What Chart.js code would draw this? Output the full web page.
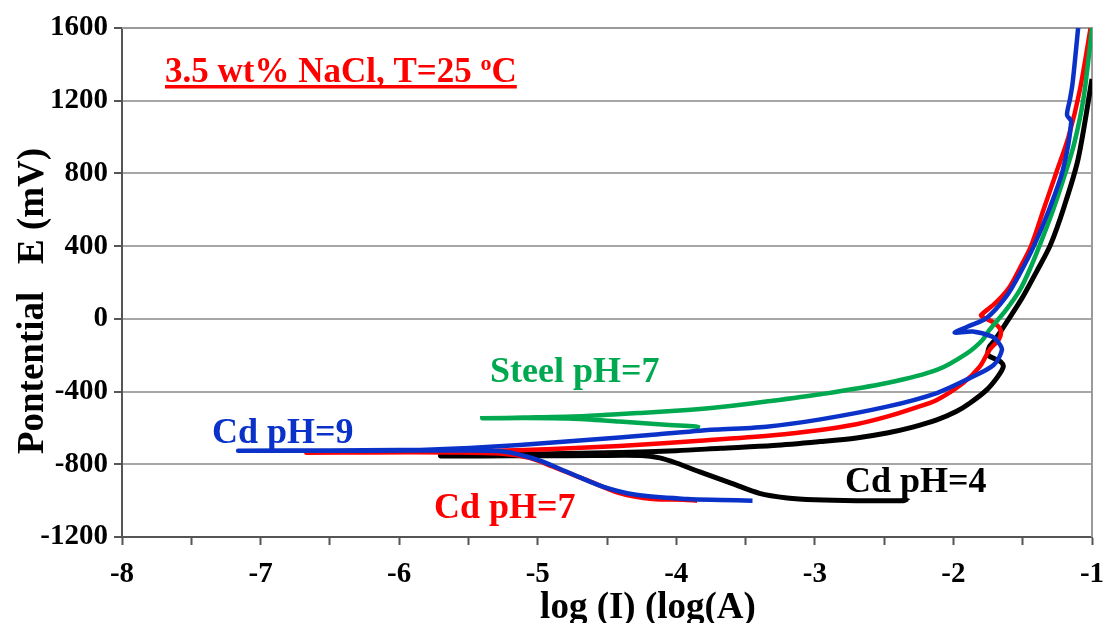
<!DOCTYPE html>
<html>
<head>
<meta charset="utf-8">
<script src="https://cdn.jsdelivr.net/npm/chart.js@4.4.1/dist/chart.umd.min.js"></script>
<style>
  html, body { margin: 0; padding: 0; background: #fff; }
</style>
</head>
<body>
<canvas id="chart" width="1104" height="623"></canvas>
<script>
// ---------- DATA (log I in log(A), E in mV) ----------
const cd4LogI = [-2.33, -2.36, -2.7, -3.0, -3.2, -3.4, -3.6, -3.83, -4.0, -4.12, -4.25, -4.6, -5.0, -5.4, -5.7,
  -5.6, -5.2, -4.8, -4.4, -4.0, -3.68, -3.3, -2.96, -2.7, -2.48, -2.3, -2.12, -1.98, -1.88, -1.76, -1.68, -1.64,
  -1.66, -1.71, -1.75, -1.74, -1.70, -1.60, -1.50, -1.40, -1.30, -1.20, -1.10, -1.0];
const cd4E = [-990, -1000, -1000, -995, -985, -960, -905, -842, -793, -765, -752, -752, -753, -754, -754,
  -750, -745, -741, -735, -725, -712, -697, -675, -655, -628, -597, -556, -510, -463, -391, -318, -263,
  -235, -217, -198, -153, -116, 0, 120, 260, 407, 620, 880, 1320];

const cd7LogI = [-3.85, -3.95, -4.17, -4.41, -4.65, -4.89, -5.06, -5.25, -5.6, -6.2, -6.67,
  -6.3, -5.8, -5.3, -4.89, -4.41, -3.83, -3.3, -2.96, -2.7, -2.48, -2.3, -2.12, -1.93, -1.81, -1.74, -1.67,
  -1.66, -1.71, -1.79, -1.80, -1.70, -1.60, -1.52, -1.44, -1.35, -1.26, -1.17, -1.09, -1.01];
const cd7E = [-1000, -995, -991, -958, -886, -813, -765, -742, -735, -735, -736,
  -733, -731, -725, -716, -699, -670, -640, -611, -580, -538, -495, -446, -353, -263, -171, -110,
  -61, -20, 10, 21, 85, 170, 280, 400, 600, 800, 1000, 1250, 1600];

const cd9LogI = [-3.45, -3.68, -3.92, -4.29, -4.53, -4.77, -5.0, -5.25, -5.6, -6.2, -7.16,
  -6.5, -6.0, -5.85, -5.49, -5.13, -4.65, -4.17, -3.83, -3.35, -2.96, -2.48, -2.12, -1.88, -1.71, -1.65,
  -1.68, -1.72, -1.86, -1.99, -1.90, -1.76, -1.62, -1.52, -1.42, -1.31, -1.21, -1.15, -1.18, -1.16, -1.14, -1.10];
const cd9E = [-1000, -996, -991, -968, -923, -848, -776, -730, -724, -725, -725,
  -724, -722, -721, -710, -694, -666, -638, -615, -593, -553, -483, -408, -325, -254, -171,
  -125, -98, -70, -76, -43, 5, 122, 250, 400, 600, 820, 1085, 1121, 1204, 1297, 1600];

const steelLogI = [-3.83, -3.86, -4.05, -4.41, -4.77, -5.1, -5.40, -5.1, -4.65, -4.2, -3.92, -3.68,
  -3.35, -2.96, -2.48, -2.12, -1.90, -1.79, -1.74, -1.62, -1.52, -1.45, -1.38, -1.29, -1.21, -1.13, -1.06, -1.0];
const steelE = [-600, -592, -584, -565, -548, -545, -547, -543, -534, -515, -501, -485,
  -455, -415, -353, -281, -188, -116, -61, 49, 159, 270, 400, 580, 760, 960, 1220, 1600];

const xMin = -8, xMax = -1, xStep = 0.5;
const yMin = -1200, yMax = 1600, yStep = 400;

function pts(xs, ys) {
  return xs.map((x, i) => ({ x: x, y: ys[i] }));
}

// ---------- TEXT LABELS + FRAME ----------
const labelPlugin = {
  id: "labels",
  beforeDatasetsDraw(chart) {
    const { ctx, chartArea: a } = chart;
    ctx.save();
    ctx.strokeStyle = "#9a9a9a";
    ctx.lineWidth = 2;
    ctx.beginPath();
    ctx.moveTo(a.left, a.top);
    ctx.lineTo(a.right, a.top);
    ctx.lineTo(a.right, a.bottom);
    ctx.stroke();
    ctx.restore();
  },
  afterDatasetsDraw(chart) {
    const ctx = chart.ctx;
    ctx.save();
    ctx.textBaseline = "alphabetic";
    ctx.textAlign = "left";

    // title
    ctx.fillStyle = "#ff0000";
    ctx.font = "bold 35px 'Liberation Serif'";
    const t1 = "3.5 wt% NaCl, T=25 ";
    ctx.fillText(t1, 165, 82);
    let x = 165 + ctx.measureText(t1).width;
    ctx.font = "bold 22px 'Liberation Serif'";
    ctx.fillText("o", x, 70);
    x += ctx.measureText("o").width;
    ctx.font = "bold 35px 'Liberation Serif'";
    ctx.fillText("C", x, 82);
    x += ctx.measureText("C").width;
    ctx.fillRect(165, 85, x - 165, 3.5);

    // curve labels
    ctx.font = "bold 36px 'Liberation Serif'";
    ctx.fillStyle = "#00a850";
    ctx.fillText("Steel pH=7", 490, 382);
    ctx.fillStyle = "#0a32c8";
    ctx.fillText("Cd pH=9", 212, 443);
    ctx.fillStyle = "#ff0000";
    ctx.fillText("Cd pH=7", 434, 518);
    ctx.fillStyle = "#000000";
    ctx.fillText("Cd pH=4", 845, 492);

    // axis titles
    ctx.fillStyle = "#000000";
    ctx.font = "bold 37px 'Liberation Serif'";
    ctx.textAlign = "center";
    ctx.fillText("log (I) (log(A)", 648, 618);
    ctx.translate(43, 301);
    ctx.rotate(-Math.PI / 2);
    ctx.fillText("Pontential   E (mV)", 0, 0);
    ctx.restore();
  }
};

// ---------- CHART ----------
const line = (data, color, width, order) => ({
  data: data,
  borderColor: color,
  borderWidth: width,
  pointRadius: 0,
  showLine: true,
  fill: false,
  tension: 0.3,
  order: order
});

new Chart(document.getElementById("chart"), {
  type: "scatter",
  data: {
    datasets: [
      line(pts(cd9LogI, cd9E), "#0a32c8", 4.5, 1),
      line(pts(steelLogI, steelE), "#00a850", 4.5, 2),
      line(pts(cd7LogI, cd7E), "#ff0000", 4.5, 3),
      line(pts(cd4LogI, cd4E), "#000000", 5, 4)
    ]
  },
  options: {
    responsive: false,
    animation: false,
    layout: { padding: { top: 28, right: 12, left: 0, bottom: 0 } },
    plugins: { legend: { display: false }, tooltip: { enabled: false } },
    scales: {
      x: {
        type: "linear",
        min: xMin,
        max: xMax,
        afterFit: s => { s.height = 86; s.paddingLeft = 0; s.paddingRight = 0; },
        afterBuildTicks: s => {
          const t = [];
          for (let v = xMin; v <= xMax + 1e-9; v += xStep) t.push({ value: v });
          s.ticks = t;
        },
        ticks: {
          autoSkip: false,
          maxRotation: 0,
          padding: 12,
          color: "#000",
          font: { family: "'Liberation Serif'", size: 29, weight: "bold" },
          callback: v => (Number.isInteger(v) ? String(v) : "")
        },
        grid: { drawOnChartArea: false, drawTicks: true, tickLength: 8, tickColor: "#555", tickWidth: 2 },
        border: { display: true, color: "#555", width: 2 }
      },
      y: {
        type: "linear",
        min: yMin,
        max: yMax,
        afterFit: s => { s.width = 122; s.paddingTop = 0; s.paddingBottom = 0; },
        ticks: {
          stepSize: yStep,
          padding: 6,
          color: "#000",
          font: { family: "'Liberation Serif'", size: 29, weight: "bold" },
          callback: v => String(v)
        },
        grid: { color: "#a6a6a6", lineWidth: 2, tickLength: 8, tickColor: "#555" },
        border: { display: true, color: "#555", width: 2 }
      }
    }
  },
  plugins: [labelPlugin]
});
</script>
</body>
</html>
